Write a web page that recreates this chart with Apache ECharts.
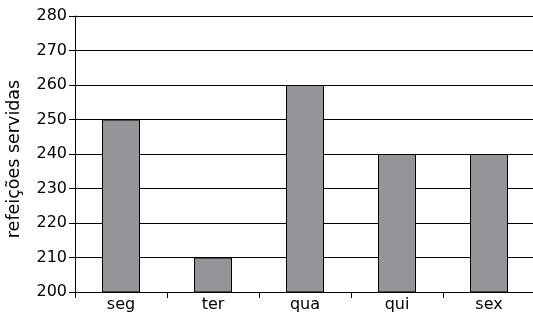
<!DOCTYPE html>
<html><head><meta charset="utf-8">
<script src="https://cdn.jsdelivr.net/npm/echarts@6/dist/echarts.min.js"></script>
<style>html,body{margin:0;padding:0;background:#fff}#c{width:533px;height:313px}</style>
</head><body><div id="c"></div>
<script>
const categories = ['seg', 'ter', 'qua', 'qui', 'sex'];
const values = [250, 210, 260, 240, 240];
const yAxisName = 'refeições servidas';

const chart = echarts.init(document.getElementById('c'), null, {renderer: 'canvas'});
const font = 'DejaVu Sans, Liberation Sans, Arial, sans-serif';
chart.setOption({
  animation: false,
  grid: {left: 75, right: -2, top: 16, bottom: 21, containLabel: false, outerBoundsMode: 'none'},
  xAxis: {
    type: 'category', data: categories, boundaryGap: true,
    axisLine: {lineStyle: {color: '#000', width: 1}},
    axisTick: {show: true, length: 6, alignWithLabel: false, lineStyle: {color: '#000'}},
    axisLabel: {color: '#000', fontSize: 16, fontFamily: font, margin: 5},
    splitLine: {show: false}
  },
  yAxis: {
    type: 'value', min: 200, max: 280, interval: 10,
    name: yAxisName, nameLocation: 'middle', nameGap: 52, nameRotate: 90,
    nameTextStyle: {color: '#000', fontSize: 17.5, fontFamily: font, padding: [0, 10, 0, 0]},
    axisLine: {show: true, lineStyle: {color: '#000', width: 1}},
    axisTick: {show: true, length: 6, lineStyle: {color: '#000'}},
    axisLabel: {color: '#000', fontSize: 16, fontFamily: font, margin: 8},
    splitLine: {show: true, lineStyle: {color: '#000', width: 1}}
  },
  series: [{
    type: 'bar', data: values, barWidth: 38,
    itemStyle: {color: '#939598', borderColor: '#000', borderWidth: 1}
  }]
});
</script></body></html>
